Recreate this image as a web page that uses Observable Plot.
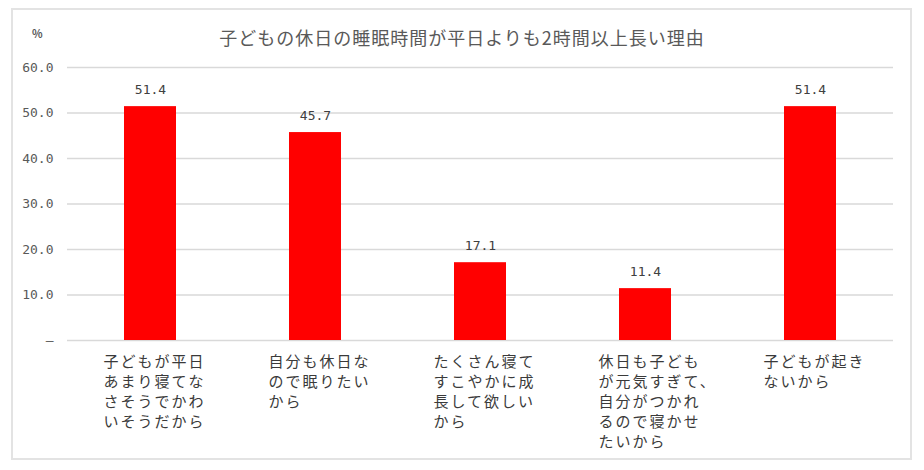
<!DOCTYPE html>
<html><head><meta charset="utf-8">
<script src="https://cdn.jsdelivr.net/npm/d3@7"></script>
<script src="https://cdn.jsdelivr.net/npm/@observablehq/plot@0.6"></script>
<style>
  html,body{margin:0;padding:0;background:#fff;}
  body{position:relative;width:924px;height:470px;overflow:hidden;font-family:"Noto Sans CJK JP","Noto Sans",sans-serif;}
  #frame{position:absolute;left:11px;top:8px;width:897px;height:448px;border:2px solid #e3e3e3;box-sizing:content-box;}
  #title{position:absolute;left:0;top:24px;width:924px;text-align:center;font-size:18px;letter-spacing:1px;color:#595959;}
  #unit{position:absolute;left:32px;top:25px;font-size:11px;color:#595959;font-weight:bold;}
  #chart{position:absolute;left:0;top:0;}
  #chart g[aria-label="x-axis tick label"] text{letter-spacing:2px;}
</style>
</head><body>
<div id="frame"></div>
<div id="title">子どもの休日の睡眠時間が平日よりも2時間以上長い理由</div>
<div id="unit">%</div>
<div id="chart"></div>
<script>
const categories = [
  "子どもが平日あまり寝てなさそうでかわいそうだから",
  "自分も休日なので眠りたいから",
  "たくさん寝てすこやかに成長して欲しいから",
  "休日も子どもが元気すぎて、自分がつかれるので寝かせたいから",
  "子どもが起きないから"
];
const categoryLabels = [
  "子どもが平日\nあまり寝てな\nさそうでかわ\nいそうだから",
  "自分も休日な\nので眠りたい\nから",
  "たくさん寝て\nすこやかに成\n長して欲しい\nから",
  "休日も子ども\nが元気すぎて、\n自分がつかれ\nるので寝かせ\nたいから",
  "子どもが起き\nないから"
];
const values = [51.4, 45.7, 17.1, 11.4, 51.4];
const yTicks = [0, 10, 20, 30, 40, 50, 60];
const yTickLabels = ["–", "10.0", "20.0", "30.0", "40.0", "50.0", "60.0"];

const data = categories.map((c, i) => ({category: c, value: values[i]}));
const monoFont = '"DejaVu Sans Mono","Liberation Mono",monospace';

const chart = Plot.plot({
  width: 924,
  height: 470,
  marginLeft: 67,
  marginRight: 31,
  marginTop: 67,
  marginBottom: 130,
  style: {fontFamily: '"Noto Sans CJK JP","Noto Sans",sans-serif', background: "transparent", overflow: "visible"},
  x: {domain: categories, paddingInner: 0.685, paddingOuter: 0.3425, label: null},
  y: {domain: [0, 60], label: null},
  marks: [
    Plot.gridY(yTicks, {stroke: "#d9d9d9", strokeOpacity: 1, strokeWidth: 1.3}),
    Plot.barY(data, {x: "category", y: "value", fill: "#ff0000"}),
    Plot.text(data, {x: "category", y: "value", text: d => d.value.toFixed(1), dy: -17, fontSize: 13,
      fontFamily: monoFont, fill: "#404040"}),
    Plot.axisY({ticks: yTicks, tickSize: 0, tickPadding: 14, fontSize: 13, fontFamily: monoFont, fill: "#595959",
      tickFormat: d => yTickLabels[yTicks.indexOf(d)], label: null}),
    Plot.axisX({tickSize: 0, tickPadding: 12, textAnchor: "start", dx: -47, lineAnchor: "top",
      lineHeight: 1.333, fontSize: 15, fill: "#3a3a3a", label: null,
      tickFormat: d => categoryLabels[categories.indexOf(d)]})
  ]
});
document.getElementById("chart").appendChild(chart);
</script>
</body></html>
